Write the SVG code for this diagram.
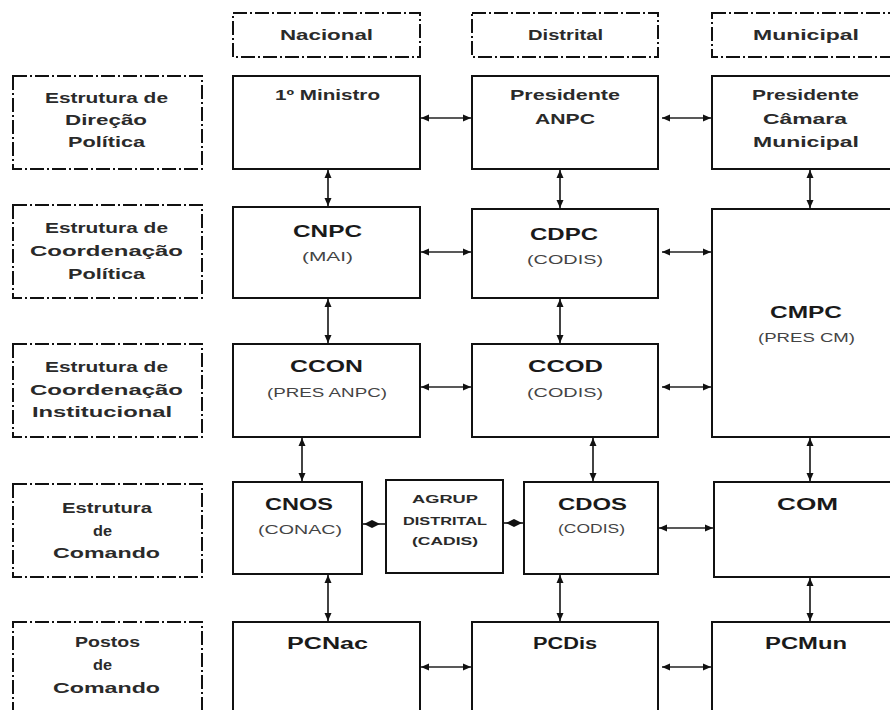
<svg xmlns="http://www.w3.org/2000/svg" width="890" height="710" viewBox="0 0 890 710">
<defs>
<style>
.bg{fill:#fff}
.box{fill:#fff;stroke:#111;stroke-width:2}
.dbox{fill:#fff;stroke:#111;stroke-width:2;stroke-dasharray:14 3 2 3}
.t{font-family:"Liberation Sans",Arial,sans-serif;font-weight:bold;fill:#2a2a2a;font-size:15px}
.h{font-size:17px;fill:#1a1a1a}
.p{font-weight:normal;font-size:13px;fill:#444}
.s{font-size:11.5px}
.pc{font-size:16px;fill:#1a1a1a}
.c{stroke:#222;stroke-width:1.7;fill:none;marker-start:url(#ah);marker-end:url(#ah)}
.d{stroke:#222;stroke-width:1.7;fill:none}
.dm{fill:#111}
</style>
<marker id="ah" viewBox="0 0 8 8" refX="8" refY="4" markerWidth="8" markerHeight="8" markerUnits="userSpaceOnUse" orient="auto-start-reverse">
<path d="M0,0.5 L8,4 L0,7.5 z" fill="#111"/>
</marker>
</defs>
<rect class="bg" x="0" y="0" width="890" height="710"/>

<g id="hdr-nacional"><rect class="dbox" x="233" y="13" width="187" height="44"/><text class="t" x="280" y="40" textLength="93" lengthAdjust="spacingAndGlyphs">Nacional</text></g>
<g id="hdr-distrital"><rect class="dbox" x="472" y="13" width="186" height="44"/><text class="t" x="528" y="40" textLength="75" lengthAdjust="spacingAndGlyphs">Distrital</text></g>
<g id="hdr-municipal"><rect class="dbox" x="712" y="13" width="190" height="44"/><text class="t" x="753" y="40" textLength="106" lengthAdjust="spacingAndGlyphs">Municipal</text></g>

<g id="lbl-direcao"><rect class="dbox" x="13" y="76" width="189" height="93"/>
<text class="t" x="45" y="103" textLength="123" lengthAdjust="spacingAndGlyphs">Estrutura de</text>
<text class="t" x="65" y="125" textLength="82" lengthAdjust="spacingAndGlyphs">Direção</text>
<text class="t" x="68" y="147" textLength="77" lengthAdjust="spacingAndGlyphs">Política</text></g>
<g id="lbl-coord-pol"><rect class="dbox" x="13" y="205" width="189" height="93"/>
<text class="t" x="45" y="233" textLength="123" lengthAdjust="spacingAndGlyphs">Estrutura de</text>
<text class="t" x="30" y="256" textLength="153" lengthAdjust="spacingAndGlyphs">Coordenação</text>
<text class="t" x="68" y="279" textLength="77" lengthAdjust="spacingAndGlyphs">Política</text></g>
<g id="lbl-coord-inst"><rect class="dbox" x="13" y="344" width="189" height="93"/>
<text class="t" x="45" y="372" textLength="123" lengthAdjust="spacingAndGlyphs">Estrutura de</text>
<text class="t" x="30" y="395" textLength="153" lengthAdjust="spacingAndGlyphs">Coordenação</text>
<text class="t" x="32" y="417" textLength="140" lengthAdjust="spacingAndGlyphs">Institucional</text></g>
<g id="lbl-comando"><rect class="dbox" x="13" y="484" width="189" height="93"/>
<text class="t" x="62" y="513" textLength="90" lengthAdjust="spacingAndGlyphs">Estrutura</text>
<text class="t" x="93" y="536" textLength="19" lengthAdjust="spacingAndGlyphs">de</text>
<text class="t" x="53" y="558" textLength="107" lengthAdjust="spacingAndGlyphs">Comando</text></g>
<g id="lbl-postos"><rect class="dbox" x="13" y="622" width="189" height="100"/>
<text class="t" x="75" y="647" textLength="65" lengthAdjust="spacingAndGlyphs">Postos</text>
<text class="t" x="93" y="670" textLength="19" lengthAdjust="spacingAndGlyphs">de</text>
<text class="t" x="53" y="693" textLength="107" lengthAdjust="spacingAndGlyphs">Comando</text></g>

<g id="n-ministro"><rect class="box" x="233" y="76" width="187" height="93"/>
<text class="t" x="275" y="100" textLength="105" lengthAdjust="spacingAndGlyphs">1º Ministro</text></g>
<g id="n-pres-anpc"><rect class="box" x="472" y="76" width="186" height="93"/>
<text class="t" x="510" y="100" textLength="110" lengthAdjust="spacingAndGlyphs">Presidente</text>
<text class="t" x="535" y="124" textLength="60" lengthAdjust="spacingAndGlyphs">ANPC</text></g>
<g id="n-pres-cm"><rect class="box" x="712" y="76" width="190" height="93"/>
<text class="t" x="752" y="100" textLength="107" lengthAdjust="spacingAndGlyphs">Presidente</text>
<text class="t" x="763" y="124" textLength="84" lengthAdjust="spacingAndGlyphs">Câmara</text>
<text class="t" x="753" y="147" textLength="106" lengthAdjust="spacingAndGlyphs">Municipal</text></g>

<g id="n-cnpc"><rect class="box" x="233" y="207" width="187" height="91"/>
<text class="t h" x="293" y="237" textLength="69" lengthAdjust="spacingAndGlyphs">CNPC</text>
<text class="t p" x="302" y="261" textLength="51" lengthAdjust="spacingAndGlyphs">(MAI)</text></g>
<g id="n-cdpc"><rect class="box" x="472" y="209" width="186" height="89"/>
<text class="t h" x="530" y="240" textLength="68" lengthAdjust="spacingAndGlyphs">CDPC</text>
<text class="t p" x="527" y="264" textLength="76" lengthAdjust="spacingAndGlyphs">(CODIS)</text></g>
<g id="n-cmpc"><rect class="box" x="712" y="209" width="190" height="228"/>
<text class="t h" x="770" y="318" textLength="72" lengthAdjust="spacingAndGlyphs">CMPC</text>
<text class="t p" x="758" y="342" textLength="97" lengthAdjust="spacingAndGlyphs">(PRES CM)</text></g>
<g id="n-ccon"><rect class="box" x="233" y="344" width="187" height="93"/>
<text class="t h" x="290" y="372" textLength="73" lengthAdjust="spacingAndGlyphs">CCON</text>
<text class="t p" x="267" y="397" textLength="120" lengthAdjust="spacingAndGlyphs">(PRES ANPC)</text></g>
<g id="n-ccod"><rect class="box" x="472" y="344" width="186" height="93"/>
<text class="t h" x="528" y="372" textLength="75" lengthAdjust="spacingAndGlyphs">CCOD</text>
<text class="t p" x="527" y="397" textLength="76" lengthAdjust="spacingAndGlyphs">(CODIS)</text></g>

<g id="n-cnos"><rect class="box" x="233" y="482" width="129" height="92"/>
<text class="t h" x="265" y="510" textLength="68" lengthAdjust="spacingAndGlyphs">CNOS</text>
<text class="t p" x="258" y="534" textLength="84" lengthAdjust="spacingAndGlyphs">(CONAC)</text></g>
<g id="n-agrup"><rect class="box" x="386" y="480" width="117" height="93"/>
<text class="t s" x="412" y="503" textLength="66" lengthAdjust="spacingAndGlyphs">AGRUP</text>
<text class="t s" x="403" y="525" textLength="84" lengthAdjust="spacingAndGlyphs">DISTRITAL</text>
<text class="t s" x="412" y="545" textLength="66" lengthAdjust="spacingAndGlyphs">(CADIS)</text></g>
<g id="n-cdos"><rect class="box" x="524" y="482" width="134" height="92"/>
<text class="t h" x="558" y="510" textLength="69" lengthAdjust="spacingAndGlyphs">CDOS</text>
<text class="t p" x="558" y="533" textLength="67" lengthAdjust="spacingAndGlyphs">(CODIS)</text></g>
<g id="n-com"><rect class="box" x="714" y="482" width="188" height="95"/>
<text class="t h" x="777" y="510" textLength="61" lengthAdjust="spacingAndGlyphs">COM</text></g>

<g id="n-pcnac"><rect class="box" x="233" y="622" width="187" height="100"/>
<text class="t pc" x="287" y="649" textLength="81" lengthAdjust="spacingAndGlyphs">PCNac</text></g>
<g id="n-pcdis"><rect class="box" x="472" y="622" width="186" height="100"/>
<text class="t pc" x="533" y="649" textLength="64" lengthAdjust="spacingAndGlyphs">PCDis</text></g>
<g id="n-pcmun"><rect class="box" x="712" y="622" width="190" height="100"/>
<text class="t pc" x="765" y="649" textLength="82" lengthAdjust="spacingAndGlyphs">PCMun</text></g>

<g id="connectors">
<line class="c" x1="421" y1="118" x2="471" y2="118"/>
<line class="c" x1="662" y1="118" x2="711" y2="118"/>
<line class="c" x1="328" y1="170" x2="328" y2="206"/>
<line class="c" x1="560" y1="170" x2="560" y2="208"/>
<line class="c" x1="810" y1="170" x2="810" y2="208"/>
<line class="c" x1="421" y1="252" x2="471" y2="252"/>
<line class="c" x1="662" y1="252" x2="711" y2="252"/>
<line class="c" x1="328" y1="299" x2="328" y2="343"/>
<line class="c" x1="560" y1="299" x2="560" y2="343"/>
<line class="c" x1="421" y1="387" x2="471" y2="387"/>
<line class="c" x1="662" y1="387" x2="711" y2="387"/>
<line class="c" x1="302" y1="438" x2="302" y2="481"/>
<line class="c" x1="593" y1="438" x2="593" y2="481"/>
<line class="c" x1="810" y1="438" x2="810" y2="481"/>
<line class="d" x1="363" y1="524" x2="385" y2="524"/>
<path class="dm" d="M364,524 L372,520 L380,524 L372,528 z"/>
<line class="d" x1="504" y1="523" x2="523" y2="523"/>
<path class="dm" d="M506,523 L514,519 L522,523 L514,527 z"/>
<line class="c" x1="659" y1="528" x2="713" y2="528"/>
<line class="c" x1="328" y1="575" x2="328" y2="621"/>
<line class="c" x1="560" y1="575" x2="560" y2="621"/>
<line class="c" x1="810" y1="578" x2="810" y2="621"/>
<line class="c" x1="421" y1="667" x2="471" y2="667"/>
<line class="c" x1="662" y1="667" x2="711" y2="667"/>
</g>
</svg>
